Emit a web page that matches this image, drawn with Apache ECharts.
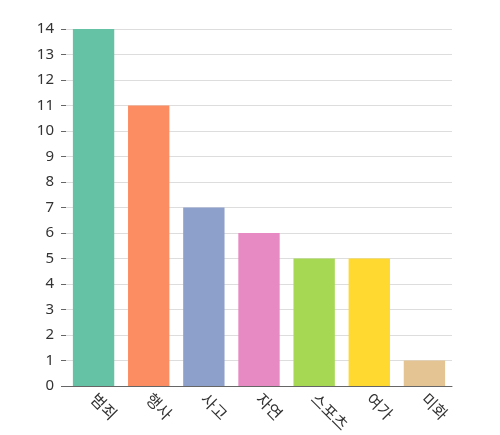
<!DOCTYPE html>
<html><head><meta charset="utf-8">
<script src="https://cdn.jsdelivr.net/npm/echarts@6/dist/echarts.min.js"></script>
<style>html,body{margin:0;padding:0;background:#fff}#c{width:500px;height:435px}</style>
</head><body><div id="c"></div>
<script>
var categories = ['범죄', '행사', '사고', '자연', '스포츠', '여가', '미화'];
var values = [14, 11, 7, 6, 5, 5, 1];
var colors = ['#66c2a5', '#fc8d62', '#8da0cb', '#e78ac3', '#a6d854', '#ffd92f', '#e5c494'];

var chart = echarts.init(document.getElementById('c'));
chart.setOption({
    animation: false,
    grid: { left: 66, right: 48, top: 29, bottom: 42 },
    xAxis: {
        type: 'category',
        data: categories,
        axisTick: { alignWithLabel: true, length: 6, lineStyle: { color: '#666' } },
        axisLine: { lineStyle: { color: '#666' } },
        axisLabel: { rotate: -45, fontSize: 16, color: '#333', margin: 10,
            fontFamily: 'Noto Sans CJK KR' }
    },
    yAxis: {
        type: 'value', min: 0, max: 14, interval: 1,
        axisLabel: { fontSize: 15, color: '#333', fontFamily: 'Noto Sans', margin: 12 },
        axisTick: { show: true, length: 5, lineStyle: { color: '#666' } },
        splitLine: { lineStyle: { color: '#ddd' } }
    },
    series: [{
        type: 'bar',
        barCategoryGap: '25%',
        data: values.map(function (v, i) { return { value: v, itemStyle: { color: colors[i] } }; })
    }]
});
</script></body></html>
